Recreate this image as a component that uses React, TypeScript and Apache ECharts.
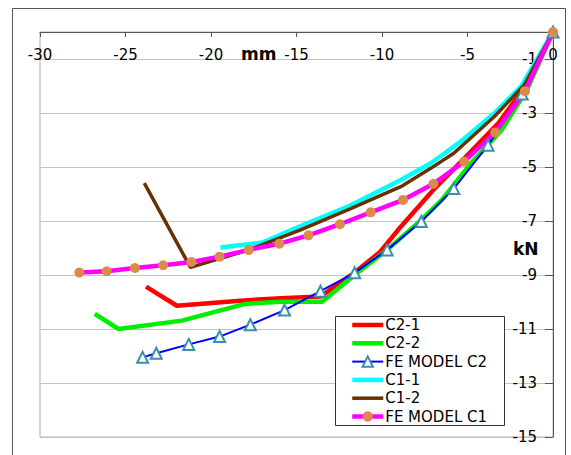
import React, { useEffect, useRef } from "react";
import * as echarts from "echarts";

// [mm, kN] pairs
const c21: number[][] = [[-23.8,-9.43],[-22.0,-10.14],[-18.3,-9.95],[-15.9,-9.86],[-13.6,-9.8],[-11.6,-8.91],[-10.1,-8.14],[-8.9,-7.21],[-7.0,-5.85],[-5.0,-4.56],[-3.2,-3.38],[-1.6,-2.0],[0,0]];
const c22: number[][] = [[-26.8,-10.44],[-25.4,-11.0],[-21.7,-10.69],[-18.0,-10.07],[-15.9,-9.99],[-13.5,-9.99],[-11.6,-9.0],[-9.7,-8.07],[-7.7,-6.96],[-6.5,-6.22],[-4.8,-4.86],[-3.0,-3.63],[-1.5,-2.1],[0,0]];
const feC2: number[][] = [[-24.0,-12.05],[-23.2,-11.9],[-21.3,-11.57],[-19.5,-11.28],[-17.7,-10.84],[-15.7,-10.3],[-13.6,-9.6],[-11.6,-8.92],[-9.7,-8.07],[-7.7,-7.02],[-5.8,-5.8],[-3.8,-4.19],[-1.8,-2.3],[0,0]];
const c11: number[][] = [[-19.45,-7.98],[-17.0,-7.8],[-14.8,-7.2],[-12.0,-6.47],[-8.9,-5.48],[-7.15,-4.86],[-5.4,-4.06],[-3.44,-3.01],[-1.87,-2.02],[0,0]];
const c12: number[][] = [[-23.9,-5.6],[-21.2,-8.72],[-17.8,-8.07],[-14.76,-7.33],[-12.0,-6.59],[-8.9,-5.73],[-7.15,-5.05],[-5.8,-4.49],[-3.44,-3.14],[-1.68,-1.96],[0,0]];
const feC1: number[][] = [[-27.7,-8.91],[-26.1,-8.86],[-24.45,-8.74],[-22.8,-8.64],[-21.15,-8.52],[-19.5,-8.32],[-17.8,-8.07],[-16.0,-7.84],[-14.3,-7.53],[-12.46,-7.12],[-10.66,-6.68],[-8.77,-6.22],[-6.99,-5.62],[-5.2,-4.8],[-3.38,-3.72],[-1.64,-2.19],[0,0]];

const seriesNames = ["C2-1", "C2-2", "FE MODEL C2", "C1-1", "C1-2", "FE MODEL C1"];
const hasMarker = [false, false, true, false, false, true];
const yTickValues = [-15, -13, -11, -9, -7, -5, -3, -1];
const xLabel = "mm";
const yLabel = "kN";

const FONT = "DejaVu Sans";

export default function App() {
  const ref = useRef<HTMLDivElement>(null);
  useEffect(() => {
    document.body.style.margin = "0";
    const chart = echarts.init(ref.current!, null, { renderer: "svg" });
    const line = (name: string, data: number[][], color: string, width: number, extra: any = {}) => ({
      name,
      type: "line",
      data,
      symbol: "none",
      lineStyle: { color, width },
      itemStyle: { color },
      ...extra,
    });
    chart.setOption({
      animation: false,
      backgroundColor: "#fff",
      grid: { left: 40, right: 18, top: 32, bottom: 18, show: true, borderColor: "#b0b0b0", borderWidth: 1 },
      xAxis: {
        type: "value",
        position: "top",
        min: -30,
        max: 0,
        interval: 5,
        axisLine: { show: true, onZero: false, lineStyle: { color: "#555", width: 1 } },
        axisTick: { show: true, inside: true, length: 5, lineStyle: { color: "#555" } },
        axisLabel: { inside: true, margin: 15, color: "#000", fontSize: 15, fontFamily: FONT },
        splitLine: { show: false },
      },
      yAxis: {
        type: "value",
        position: "right",
        min: -15,
        max: 0,
        axisLine: { show: true, onZero: false, lineStyle: { color: "#555", width: 1 } },
        axisTick: { show: true, inside: true, length: 8, lineStyle: { color: "#555" }, customValues: yTickValues },
        axisLabel: { inside: true, margin: 16, color: "#000", fontSize: 15, fontFamily: FONT, customValues: yTickValues },
        splitLine: { show: true, lineStyle: { color: "#c4c4c4", width: 1 } },
      },
      legend: {
        orient: "vertical",
        left: 350,
        top: 317.5,
        padding: 0,
        itemWidth: 31,
        itemHeight: 13,
        itemGap: 3.3,
        lineStyle: { width: "inherit" },
        data: seriesNames.map((name, i) => (hasMarker[i] ? { name } : { name, itemStyle: { opacity: 0 } })),
        textStyle: { fontSize: 15, fontFamily: FONT, color: "#000", lineHeight: 15, padding: [0, 0, 0, -3] },
      },
      graphic: [
        { type: "rect", z: -10, shape: { x: 12.5, y: 8.5, width: 553, height: 470 }, style: { fill: "none", stroke: "#555", lineWidth: 1 } },
        { type: "rect", z: 3, shape: { x: 335.5, y: 316.5, width: 169, height: 109 }, style: { fill: "#fff", stroke: "#333", lineWidth: 1 } },
        { type: "text", z: 5, x: 241, y: 53.5, style: { text: xLabel, font: `bold 17px "${FONT}"`, fill: "#000", textAlign: "left", textVerticalAlign: "middle" } },
        { type: "text", z: 5, x: 513, y: 249, style: { text: yLabel, font: `bold 17px "${FONT}"`, fill: "#000", textAlign: "left", textVerticalAlign: "middle" } },
      ],
      series: [
        line(seriesNames[0], c21, "#ff0000", 4.5),
        line(seriesNames[1], c22, "#00ee00", 4.5),
        line(seriesNames[2], feC2, "#0000ff", 2, {
          symbol: "triangle",
          symbolSize: 11,
          itemStyle: { color: "#fff", borderColor: "#3a8fb0", borderWidth: 2 },
        }),
        line(seriesNames[3], c11, "#00ffff", 4.5),
        line(seriesNames[4], c12, "#663300", 3.5),
        line(seriesNames[5], feC1, "#ff00ff", 4.5, {
          symbol: "circle",
          symbolSize: 10,
          itemStyle: { color: "#dc8a4a", borderWidth: 0 },
        }),
      ],
    });
    return () => chart.dispose();
  }, []);
  return <div ref={ref} style={{ width: 571, height: 455 }} />;
}
